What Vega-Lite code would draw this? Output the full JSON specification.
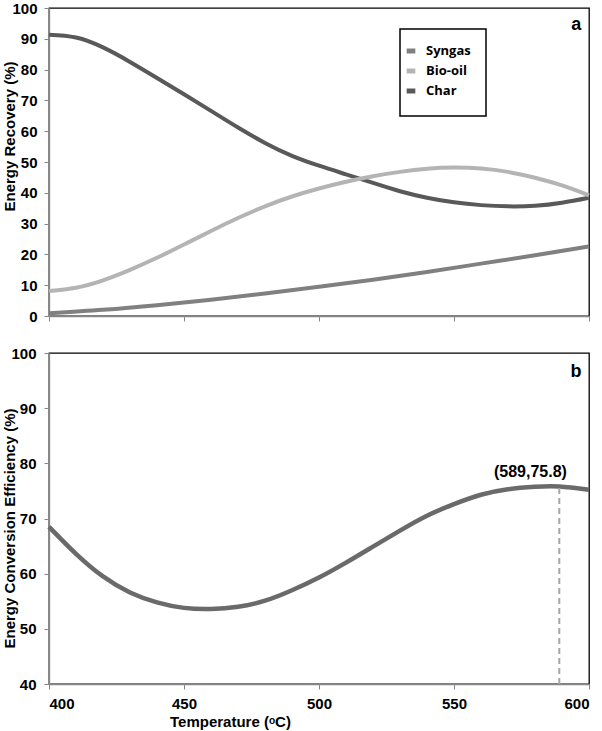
{
  "$schema": "https://vega.github.io/schema/vega-lite/v6.json",
  "background": "white",
  "padding": {"left": 1, "top": 0, "right": 4, "bottom": 0},
  "spacing": 20,
  "config": {
    "font": "Liberation Sans",
    "view": {"stroke": "#000000", "strokeWidth": 1.3},
    "axis": {
      "grid": false,
      "labelOverlap": false,
      "labelFont": "Liberation Sans",
      "labelFontWeight": "bold",
      "labelFontSize": 15,
      "labelColor": "#000000",
      "titleFont": "Liberation Sans",
      "titleFontWeight": "bold",
      "titleFontSize": 15,
      "titleColor": "#000000",
      "domainColor": "#868686",
      "domainWidth": 1.3,
      "tickColor": "#868686",
      "tickWidth": 1,
      "tickSize": 5
    },
    "legend": {
      "labelFont": "Open Sans",
      "labelFontWeight": "bold",
      "labelFontSize": 13,
      "labelColor": "#000000",
      "strokeColor": "#000000",
      "strokeWidth": 1.5,
      "fillColor": "#ffffff"
    }
  },
  "datasets": {
    "recovery": [
      {"T": 400, "series": "Char", "value": 91.3},
      {"T": 410, "series": "Char", "value": 90.4},
      {"T": 420, "series": "Char", "value": 87.2},
      {"T": 430, "series": "Char", "value": 82.5},
      {"T": 440, "series": "Char", "value": 77.3},
      {"T": 450, "series": "Char", "value": 72.0},
      {"T": 460, "series": "Char", "value": 66.6},
      {"T": 470, "series": "Char", "value": 61.2},
      {"T": 480, "series": "Char", "value": 56.2},
      {"T": 490, "series": "Char", "value": 52.0},
      {"T": 500, "series": "Char", "value": 48.8},
      {"T": 510, "series": "Char", "value": 46.0},
      {"T": 520, "series": "Char", "value": 43.2},
      {"T": 530, "series": "Char", "value": 40.5},
      {"T": 540, "series": "Char", "value": 38.4},
      {"T": 550, "series": "Char", "value": 36.9},
      {"T": 560, "series": "Char", "value": 36.0},
      {"T": 570, "series": "Char", "value": 35.6},
      {"T": 580, "series": "Char", "value": 35.8},
      {"T": 590, "series": "Char", "value": 36.8},
      {"T": 600, "series": "Char", "value": 38.4},
      {"T": 400, "series": "Bio-oil", "value": 8.1},
      {"T": 410, "series": "Bio-oil", "value": 9.2},
      {"T": 420, "series": "Bio-oil", "value": 11.6},
      {"T": 430, "series": "Bio-oil", "value": 15.0},
      {"T": 440, "series": "Bio-oil", "value": 18.9},
      {"T": 450, "series": "Bio-oil", "value": 23.2},
      {"T": 460, "series": "Bio-oil", "value": 27.6},
      {"T": 470, "series": "Bio-oil", "value": 31.8},
      {"T": 480, "series": "Bio-oil", "value": 35.6},
      {"T": 490, "series": "Bio-oil", "value": 38.8},
      {"T": 500, "series": "Bio-oil", "value": 41.4},
      {"T": 510, "series": "Bio-oil", "value": 43.6},
      {"T": 520, "series": "Bio-oil", "value": 45.4},
      {"T": 530, "series": "Bio-oil", "value": 46.8},
      {"T": 540, "series": "Bio-oil", "value": 47.8},
      {"T": 550, "series": "Bio-oil", "value": 48.2},
      {"T": 560, "series": "Bio-oil", "value": 47.9},
      {"T": 570, "series": "Bio-oil", "value": 46.8},
      {"T": 580, "series": "Bio-oil", "value": 44.9},
      {"T": 590, "series": "Bio-oil", "value": 42.4},
      {"T": 600, "series": "Bio-oil", "value": 39.2},
      {"T": 400, "series": "Syngas", "value": 0.9},
      {"T": 420, "series": "Syngas", "value": 2.0},
      {"T": 440, "series": "Syngas", "value": 3.5},
      {"T": 460, "series": "Syngas", "value": 5.3},
      {"T": 480, "series": "Syngas", "value": 7.3},
      {"T": 500, "series": "Syngas", "value": 9.5},
      {"T": 520, "series": "Syngas", "value": 11.8},
      {"T": 540, "series": "Syngas", "value": 14.3},
      {"T": 560, "series": "Syngas", "value": 17.0},
      {"T": 580, "series": "Syngas", "value": 19.7},
      {"T": 600, "series": "Syngas", "value": 22.6}
    ],
    "efficiency": [
      {"T": 400, "value": 68.5},
      {"T": 410, "value": 63.6},
      {"T": 420, "value": 59.5},
      {"T": 430, "value": 56.6},
      {"T": 440, "value": 54.8},
      {"T": 450, "value": 53.8},
      {"T": 460, "value": 53.6},
      {"T": 470, "value": 54.0},
      {"T": 480, "value": 55.1},
      {"T": 490, "value": 57.0},
      {"T": 500, "value": 59.3},
      {"T": 510, "value": 62.0},
      {"T": 520, "value": 64.9},
      {"T": 530, "value": 67.8},
      {"T": 540, "value": 70.5},
      {"T": 550, "value": 72.6},
      {"T": 560, "value": 74.3},
      {"T": 570, "value": 75.3},
      {"T": 580, "value": 75.75},
      {"T": 589, "value": 75.8},
      {"T": 600, "value": 75.2}
    ]
  },
  "vconcat": [
    {
      "width": 540,
      "height": 308,
      "layer": [
        {
          "data": {"name": "recovery"},
          "mark": {"type": "line", "interpolate": "natural", "strokeWidth": 4},
          "encoding": {
            "x": {
              "field": "T", "type": "quantitative",
              "scale": {"domain": [400, 600], "nice": false, "zero": false},
              "axis": {"values": [400, 450, 500, 550, 600], "tickCount": 20, "labels": false, "title": null}
            },
            "y": {
              "field": "value", "type": "quantitative",
              "scale": {"domain": [0, 100], "nice": false},
              "axis": {
                "values": [0, 10, 20, 30, 40, 50, 60, 70, 80, 90, 100],
                "tickCount": 20,
                "labelOverlap": false,
                "labelPadding": 7,
                "title": "Energy Recovery (%)",
                "titleX": -40,
                "titleY": 128,
                "titleBaseline": "middle"
              }
            },
            "color": {
              "field": "series", "type": "nominal",
              "scale": {"domain": ["Syngas", "Bio-oil", "Char"], "range": ["#808080", "#b4b4b4", "#595959"]},
              "legend": {
                "title": null,
                "orient": "none",
                "legendX": 351,
                "legendY": 21,
                "padding": 15,
                "rowPadding": 0,
                "symbolOffset": -11,
                "labelOffset": 8,
                "labelExpr": "datum.label + '\u00a0\u00a0\u00a0'",
                "symbolType": "stroke",
                "symbolStrokeWidth": 5,
                "symbolSize": 75
              }
            }
          }
        },
        {
          "data": {"values": [{"label": "a"}]},
          "mark": {"type": "text", "fontSize": 18, "fontWeight": "bold", "font": "Liberation Sans", "color": "#000000", "align": "center", "baseline": "middle"},
          "encoding": {
            "x": {"datum": 595.3, "type": "quantitative"},
            "y": {"datum": 94.6, "type": "quantitative"},
            "text": {"field": "label"}
          }
        }
      ]
    },
    {
      "width": 540,
      "height": 331,
      "layer": [
        {
          "data": {"name": "efficiency"},
          "mark": {"type": "line", "interpolate": "natural", "strokeWidth": 4.5, "color": "#6a6a6a"},
          "encoding": {
            "x": {
              "field": "T", "type": "quantitative",
              "scale": {"domain": [400, 600], "nice": false, "zero": false},
              "axis": {
                "values": [400, 450, 500, 550, 600],
                "tickCount": 20,
                "labelPadding": 7,
                "title": "Temperature (ᵒC)",
                "titleX": 181,
                "titleY": 42,
                "titleBaseline": "alphabetic"
              }
            },
            "y": {
              "field": "value", "type": "quantitative",
              "scale": {"domain": [40, 100], "nice": false, "zero": false},
              "axis": {
                "values": [40, 50, 60, 70, 80, 90, 100],
                "tickCount": 20,
                "labelOverlap": false,
                "labelPadding": 8,
                "title": "Energy Conversion Efficiency (%)",
                "titleX": -40,
                "titleY": 175,
                "titleBaseline": "middle"
              }
            }
          }
        },
        {
          "data": {"values": [{"label": "peak"}]},
          "mark": {"type": "rule", "strokeDash": [6, 4], "strokeWidth": 2, "color": "#a6a6a6"},
          "encoding": {
            "x": {"datum": 589, "type": "quantitative"},
            "y": {"datum": 40, "type": "quantitative"},
            "y2": {"datum": 75.8}
          }
        },
        {
          "data": {"values": [{"label": "(589,75.8)"}]},
          "mark": {"type": "text", "fontSize": 16, "fontWeight": "bold", "font": "Liberation Sans", "color": "#000000", "align": "center", "baseline": "middle"},
          "encoding": {
            "x": {"datum": 578.3, "type": "quantitative"},
            "y": {"datum": 78.5, "type": "quantitative"},
            "text": {"field": "label"}
          }
        },
        {
          "data": {"values": [{"label": "b"}]},
          "mark": {"type": "text", "fontSize": 18, "fontWeight": "bold", "font": "Liberation Sans", "color": "#000000", "align": "center", "baseline": "middle"},
          "encoding": {
            "x": {"datum": 595.2, "type": "quantitative"},
            "y": {"datum": 96.5, "type": "quantitative"},
            "text": {"field": "label"}
          }
        }
      ]
    }
  ]
}
